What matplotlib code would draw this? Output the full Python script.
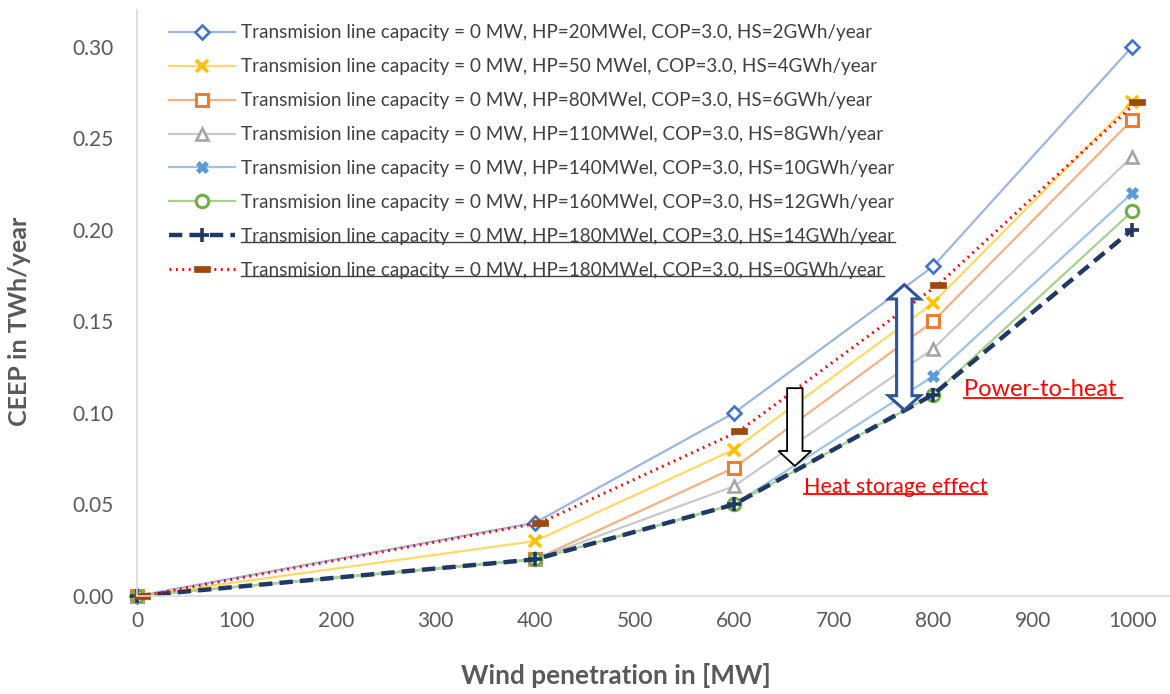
import numpy as np
import matplotlib.pyplot as plt
import matplotlib.patches as mpatches
from matplotlib.path import Path
from matplotlib.lines import Line2D

plt.rcParams['font.family'] = ['Lato', 'DejaVu Sans']

# wind penetration in MW
wind = [0, 400, 600, 800, 1000]
wind_hs0 = [5, 405, 605, 805, 1005]   # last series sits a little to the right

ceep_hp20 = [0, 0.04, 0.10, 0.18, 0.30]
ceep_hp50 = [0, 0.03, 0.08, 0.16, 0.27]
ceep_hp80 = [0, 0.02, 0.07, 0.15, 0.26]
ceep_hp110 = [0, 0.02, 0.06, 0.135, 0.24]
ceep_hp140 = [0, 0.02, 0.05, 0.12, 0.22]
ceep_hp160 = [0, 0.02, 0.05, 0.11, 0.21]
ceep_hp180 = [0, 0.02, 0.05, 0.11, 0.20]
ceep_hs0 = [0, 0.04, 0.09, 0.17, 0.27]

labels = [
    'Transmision line capacity = 0 MW, HP=20MWel, COP=3.0, HS=2GWh/year',
    'Transmision line capacity = 0 MW, HP=50 MWel, COP=3.0, HS=4GWh/year',
    'Transmision line capacity = 0 MW, HP=80MWel, COP=3.0, HS=6GWh/year',
    'Transmision line capacity = 0 MW, HP=110MWel, COP=3.0, HS=8GWh/year',
    'Transmision line capacity = 0 MW, HP=140MWel, COP=3.0, HS=10GWh/year',
    'Transmision line capacity = 0 MW, HP=160MWel, COP=3.0, HS=12GWh/year',
    'Transmision line capacity = 0 MW, HP=180MWel, COP=3.0, HS=14GWh/year',
    'Transmision line capacity = 0 MW, HP=180MWel, COP=3.0, HS=0GWh/year',
]

W, H = 1170, 694
fig = plt.figure(figsize=(W / 100, H / 100), dpi=100)
ax = fig.add_axes([137 / W, 98 / H, (W - 137) / W, (596 - 10) / H])

bar_marker = Path([(-1, -0.45), (1, -0.45), (1, 0.45), (-1, 0.45), (-1, -0.45)],
                  [Path.MOVETO, Path.LINETO, Path.LINETO, Path.LINETO, Path.CLOSEPOLY])

ms = 9
mew = 1.9
ax.plot(wind, ceep_hp20, color='#9DB5E0', lw=1.6, marker='D', ms=7.5, mfc='white',
        mec='#4472C4', mew=mew, label=labels[0], clip_on=False)
ax.plot(wind, ceep_hp50, color='#FFD966', lw=1.6, marker='x', ms=ms, mec='#FFC000',
        mew=2.6, label=labels[1], clip_on=False)
ax.plot(wind, ceep_hp80, color='#F4B183', lw=1.6, marker='s', ms=ms, mfc='white',
        mec='#ED7D31', mew=2.2, label=labels[2], clip_on=False)
ax.plot(wind, ceep_hp110, color='#C9C9C9', lw=1.6, marker='^', ms=ms, mfc='white',
        mec='#A5A5A5', mew=mew, label=labels[3], clip_on=False)
ax.plot(wind, ceep_hp140, color='#9DC3E6', lw=1.6, marker='X', ms=ms, mfc='#5B9BD5',
        mec='#5B9BD5', mew=0.5, label=labels[4], clip_on=False)
ax.plot(wind, ceep_hp160, color='#A9D18E', lw=1.6, marker='o', ms=ms, mfc='white',
        mec='#70AD47', mew=2.2, label=labels[5], clip_on=False)
ax.plot(wind, ceep_hp180, color='#203864', lw=3.2, ls=(0, (3, 1.6)), marker='+', ms=10,
        mec='#203864', mew=2.6, label=labels[6], clip_on=False)
ax.plot(wind_hs0, ceep_hs0, color='#FF0000', lw=2.2, ls=(0, (0.6, 1.5)), marker=bar_marker,
        ms=11, mfc='#9E480E', mec='#9E480E', mew=0.5, label=labels[7], clip_on=False)

ax.set_xlim(0, 1038)
ax.set_ylim(0, 0.32)
ax.set_xticks(np.arange(0, 1001, 100))
ax.set_yticks(np.arange(0, 0.301, 0.05))
ax.yaxis.set_major_formatter(plt.FormatStrFormatter('%.2f'))
ax.tick_params(length=0, labelsize=15, labelcolor='#595959')
ax.tick_params(axis='x', pad=11)
ax.tick_params(axis='y', pad=17)
for side in ['top', 'right']:
    ax.spines[side].set_visible(False)
for side in ['left', 'bottom']:
    ax.spines[side].set_color('#D9D9D9')
    ax.spines[side].set_linewidth(1.2)

fig.text(616 / W, 1 - 675 / H, 'Wind penetration in [MW]', fontsize=18.8, fontweight='bold',
         color='#595959', ha='center', va='center')
fig.text(20 / W, 1 - 321 / H, 'CEEP in TWh/year', fontsize=18, fontweight='bold',
         color='#595959', ha='center', va='center', rotation=90)

leg = ax.legend(loc='upper left', bbox_to_anchor=(160 / W, 1 - 15 / H),
                bbox_transform=fig.transFigure, frameon=False, fontsize=13.6,
                handlelength=3.45, handletextpad=0.36, labelspacing=0.895, borderpad=0)
for t in leg.get_texts():
    t.set_color('#404040')


def block_arrow(cx, y_top, y_bot, shaft_w, head_w, head_len, color, double):
    # outlined block arrow drawn in data units (x: MW, y: TWh)
    sx, hx = shaft_w / 2, head_w / 2
    if double:
        pts = [(cx, y_top), (cx + hx, y_top - head_len), (cx + sx, y_top - head_len),
               (cx + sx, y_bot + head_len), (cx + hx, y_bot + head_len), (cx, y_bot),
               (cx - hx, y_bot + head_len), (cx - sx, y_bot + head_len),
               (cx - sx, y_top - head_len), (cx - hx, y_top - head_len)]
    else:
        pts = [(cx - sx, y_top), (cx + sx, y_top), (cx + sx, y_bot + head_len),
               (cx + hx, y_bot + head_len), (cx, y_bot), (cx - hx, y_bot + head_len),
               (cx - sx, y_bot + head_len)]
    ax.add_patch(mpatches.Polygon(pts, closed=True, facecolor='white', edgecolor=color,
                                  lw=2.2 if double else 1.3, zorder=5))


block_arrow(771, 0.170, 0.1016, 15.5, 32, 0.0078, '#2F5597', True)
block_arrow(661, 0.1135, 0.0710, 15.5, 33, 0.0082, 'black', False)

t_p2h = ax.text(831, 0.1125, 'Power-to-heat ', color='#FF0000', fontsize=17,
                va='center', ha='left', zorder=6)
t_hs = ax.text(670, 0.0596, 'Heat storage effect', color='#FF0000', fontsize=15.5,
               va='center', ha='left', zorder=6)

# underlines (text has none in matplotlib)
fig.canvas.draw()
r = fig.canvas.get_renderer()


def underline(t, color, lw, off):
    bb = t.get_window_extent(r)
    y = bb.y0 + off
    fig.add_artist(Line2D([bb.x0 / W, bb.x1 / W], [y / H, y / H], color=color, lw=lw,
                          transform=fig.transFigure))


underline(leg.get_texts()[6], '#404040', 1.0, 2.5)
underline(leg.get_texts()[7], '#404040', 1.0, 2.5)
underline(t_p2h, '#FF0000', 1.3, 2.5)
underline(t_hs, '#FF0000', 1.3, 2.5)

fig.savefig('out.png', dpi=100)
